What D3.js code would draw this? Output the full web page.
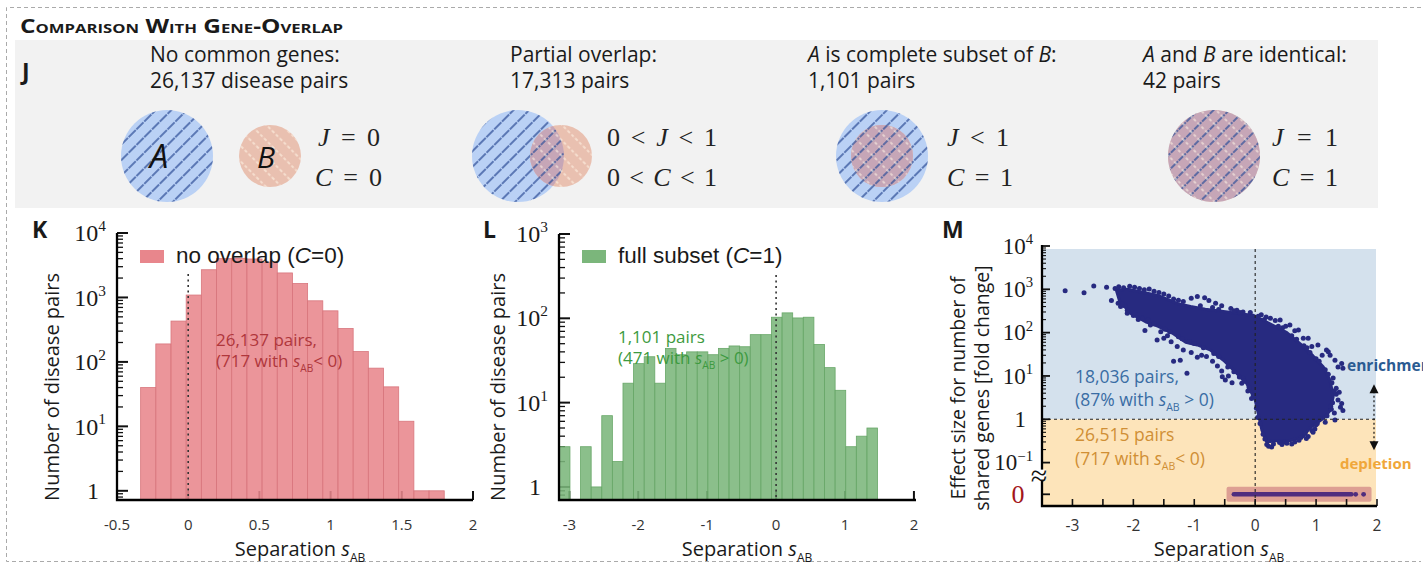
<!DOCTYPE html>
<html>
<head>
<meta charset="utf-8">
<script src="https://cdn.jsdelivr.net/npm/d3@7"></script>
<style>
  html, body { margin: 0; padding: 0; background: #fff; }
  svg { display: block; }
  text { white-space: pre; }
</style>
</head>
<body>
<svg id="fig" width="1423" height="565"></svg>
<script>
// ---------------- data ----------------
const groupTitles = ["No common genes:", "Partial overlap:", "*A* is complete subset of *B*:", "*A* and *B* are identical:"];
const groupCounts = ["26,137 disease pairs", "17,313 pairs", "1,101 pairs", "42 pairs"];
const jaccardLabels = ["*J* = 0", "0 < *J* < 1", "*J* < 1", "*J* = 1"];
const coverLabels = ["*C* = 0", "0 < *C* < 1", "*C* = 1", "*C* = 1"];

// K: disease pairs without shared genes, histogram of separation
const kBinFirst = -0.334;
const kBinWidth = 0.1066;
const kCounts = [40, 190, 430, 1090, 2690, 4000, 4050, 3950, 3535, 2400, 1645, 887, 620, 330, 145, 80, 41, 12, 1, 1];
const kTickValues = [-0.5, 0, 0.5, 1, 1.5, 2];

// L: pairs where one gene set is a full subset of the other
const lBinFirst = -3.145;
const lBinWidth = 0.1539;
const lCounts = [3, 0, 3, 1, 7, 2, 17, 29, 35, 17, 44, 37, 40, 40, 37, 44, 47, 46, 64, 64, 103, 116, 101, 103, 49, 26, 14, 3, 4, 5];
const lTickValues = [-3, -2, -1, 0, 1, 2];

// M: effect size of shared genes vs separation
const mTickValues = [-3, -2, -1, 0, 1, 2];
// outline of the densely filled part of the cloud [separation, fold change]
const denseCloud = [
  [-2.28, 955], [-2.10, 1000], [-1.91, 890], [-1.58, 710], [-1.25, 457], [-1.06, 400],
  [-0.82, 347], [-0.49, 302], [-0.16, 263], [-0.03, 251], [0.25, 158], [0.52, 100],
  [0.74, 55], [0.95, 29], [1.12, 16], [1.23, 7.9], [1.28, 3.3], [1.23, 1.6], [1.12, 1.05],
  [0.89, 0.62], [0.79, 0.40], [0.57, 0.32], [0.35, 0.32], [0.19, 0.30], [0.11, 0.56],
  [0.05, 1.38], [0.0, 2.8], [-0.14, 6.8], [-0.30, 11.5], [-0.52, 23], [-0.74, 40],
  [-0.95, 52], [-1.14, 60], [-1.36, 98], [-1.60, 141], [-1.80, 178], [-2.05, 282], [-2.23, 560]
];
// individual pairs outside or along the edge of the dense part [separation, fold change]
const sparsePairs = [
  [-3.12, 930], [-2.81, 830], [-2.65, 1200], [-2.44, 1120], [-2.36, 550], [-2.21, 400], [-2.10, 280],
  [-2.30, 1050], [-2.24, 1150], [-2.16, 1080], [-2.06, 1180], [-1.98, 1120], [-1.90, 1050],
  [-1.82, 980], [-1.74, 1020], [-1.66, 900], [-1.58, 840], [-1.50, 780], [-1.42, 700],
  [-1.34, 600], [-1.26, 560], [-1.18, 520], [-1.05, 620], [-0.95, 680], [-0.83, 640],
  [-0.76, 550], [-0.65, 480], [-0.55, 420], [-0.40, 360], [-0.30, 330], [-0.20, 300], [-0.08, 290],
  [-0.90, 420], [-0.70, 380], [-0.60, 340], [-0.35, 320], [-0.25, 290], [0.05, 240], [0.15, 200],
  [0.38, 140], [0.45, 130],
  [-2.25, 480], [-2.14, 420], [-2.00, 250], [-1.92, 200], [-1.81, 112], [-1.72, 150], [-1.61, 68],
  [-1.55, 105], [-1.50, 74], [-1.44, 85], [-1.38, 62], [-1.34, 22], [-1.28, 48], [-1.23, 23],
  [-1.18, 40], [-1.12, 11.5], [-1.05, 35], [-0.95, 27], [-0.88, 30], [-0.80, 28], [-0.70, 22],
  [-0.62, 17], [-0.55, 13], [-0.49, 8.1], [-0.54, 9.6], [-0.44, 10], [-0.38, 7], [-0.22, 6.8],
  [-0.20, 8.9], [-0.12, 4.5], [-0.06, 3.0],
  [-2.18, 460], [-2.10, 330], [-1.98, 280], [-1.85, 215], [-1.76, 195], [-1.66, 160], [-1.48, 120],
  [-1.40, 105], [-1.26, 80], [-1.20, 72], [-1.08, 62], [-1.00, 56], [-0.85, 45],
  [0.08, 0.8], [0.04, 1.1], [0.02, 1.8], [-0.03, 3.6], [-0.10, 5.5], [-0.18, 7.5], [-0.26, 9.5],
  [-0.35, 12.5], [-0.45, 16], [-0.60, 28], [-0.68, 33],
  [0.10, 260], [0.18, 230], [0.25, 215], [0.33, 190], [0.41, 195], [0.50, 140], [0.57, 150],
  [0.65, 110], [0.71, 115], [0.79, 74], [0.87, 74], [0.93, 48], [1.03, 52], [1.10, 30],
  [1.17, 40], [1.20, 36], [1.23, 30], [1.31, 23], [1.36, 16], [1.44, 15], [1.42, 19.5],
  [1.28, 9], [1.33, 5.2], [1.36, 2.8], [1.42, 2.3], [1.44, 1.6], [1.31, 0.96], [1.06, 1.05],
  [1.18, 1.2], [1.25, 1.7], [1.33, 3.8], [1.38, 4.2], [1.40, 1.9],
  [0.60, 85], [0.68, 70], [0.80, 50], [0.85, 45], [0.90, 35], [1.00, 25], [1.05, 22], [1.15, 14],
  [1.20, 11], [1.26, 7], [1.30, 4.5], [1.27, 2.4], [1.24, 2.0], [1.30, 1.4], [1.15, 0.85],
  [1.02, 0.8], [0.98, 0.6], [0.93, 0.55], [0.82, 0.48], [0.75, 0.38], [0.60, 0.27], [0.48, 0.30],
  [0.40, 0.29], [0.27, 0.23], [0.19, 0.26],
  [0.87, 0.40], [0.84, 0.36], [0.65, 0.30], [0.44, 0.26], [0.22, 0.24], [0.30, 0.27],
  [0.52, 0.28], [0.72, 0.33], [0.95, 0.5], [1.00, 0.75], [0.16, 0.35], [0.13, 0.45]
];
// pairs with zero shared genes: separation range and isolated values
const zeroFoldRange = [-0.35, 1.58];
const zeroFoldSingles = [1.65, 1.78];
const zeroFoldBox = [-0.47, 1.91];

// ---------------- drawing ----------------
const SANS = "'Open Sans', 'Noto Sans', sans-serif";
const ARIAL = "'Liberation Sans', Arial, sans-serif";
const SERIF = "'Liberation Serif', 'DejaVu Serif', serif";
const INK = "#1a1a1a";

const svg = d3.select("#fig");
const defs = svg.append("defs");

function richText(sel, str) {
  str.split("*").forEach((part, i) => {
    if (part === "") return;
    const t = sel.append("tspan").text(part);
    if (i % 2 === 1) t.attr("font-style", "italic");
  });
  return sel;
}
function sepText(sel, pre, post, size) {
  if (pre) sel.append("tspan").text(pre);
  sel.append("tspan").attr("font-style", "italic").text("s");
  sel.append("tspan").attr("font-size", size * 0.6).attr("dy", size * 0.28).text("AB");
  if (post) sel.append("tspan").attr("dy", -size * 0.28).text(post);
  return sel;
}
function powLabel(g, x, y, exp, size) {
  const t = g.append("text").attr("x", exp === 0 ? x - 7 : x).attr("y", y + size * 0.34)
    .attr("text-anchor", "end").attr("font-family", SERIF).attr("font-size", size).attr("fill", INK);
  if (exp === 0) { t.text("1"); return t; }
  t.append("tspan").text("10");
  t.append("tspan").attr("dy", -size * 0.42).attr("font-size", size * 0.64).text(exp < 0 ? "\u2212" + (-exp) : String(exp));
  return t;
}
function fmtTick(d) { return d < 0 ? "-" + Math.abs(d) : String(d); }

// frame
svg.append("path").attr("d", "M1421,7.5 H6.5 V561.5 H1421")
  .attr("fill", "none").attr("stroke", "#aaa").attr("stroke-width", 1).attr("stroke-dasharray", "4,3");

svg.append("text").attr("x", 20).attr("y", 33)
  .attr("font-family", SANS).attr("font-weight", 700).attr("font-size", 19)
  .style("font-variant", "small-caps").attr("fill", INK)
  .attr("textLength", 323).attr("lengthAdjust", "spacingAndGlyphs")
  .text("Comparison With Gene-Overlap");

// ---- J: overlap categories ----
svg.append("rect").attr("x", 15).attr("y", 40).attr("width", 1363).attr("height", 168).attr("fill", "#f2f2f2");
svg.append("text").attr("x", 22).attr("y", 80).attr("font-family", SANS).attr("font-weight", 700)
  .attr("font-size", 23).attr("fill", INK).text("J");

const headX = [150, 510, 808, 1143];
groupTitles.forEach((t, i) => {
  richText(svg.append("text").attr("x", headX[i]).attr("y", 62).attr("font-family", SANS)
    .attr("font-size", 21).attr("fill", INK), t);
  svg.append("text").attr("x", headX[i]).attr("y", 88).attr("font-family", SANS)
    .attr("font-size", 21).attr("fill", INK).text(groupCounts[i]);
});

// hatch patterns
function hatch(id, angle, color, width, dash, step) {
  const p = defs.append("pattern").attr("id", id).attr("patternUnits", "userSpaceOnUse")
    .attr("width", step).attr("height", step).attr("patternTransform", `rotate(${angle})`);
  p.append("line").attr("x1", 1).attr("y1", -1).attr("x2", 1).attr("y2", step + 1)
    .attr("stroke", color).attr("stroke-width", width).attr("stroke-dasharray", dash);
}
hatch("hatchA", 45, "#33529a", 1.4, "7,1", 11);
hatch("hatchB", -45, "#fff4e6", 1.1, "3,2.2", 11);

const COL_A = "#bad1f5", COL_B = "#e9c0b0", COL_AB = "#c6a6b7";
const venns = [
  { ax: 167, bx: 270, rb: 31 },
  { ax: 518, bx: 561, rb: 31 },
  { ax: 882, bx: 882, rb: 31 },
  { ax: 1214, bx: 1214, rb: 46 }
];
const vennY = 156, rA = 46;
venns.forEach((v, i) => {
  const g = svg.append("g");
  const clipA = defs.append("clipPath").attr("id", "clipA" + i);
  clipA.append("circle").attr("cx", v.ax).attr("cy", vennY).attr("r", rA);
  const clipB = defs.append("clipPath").attr("id", "clipB" + i);
  clipB.append("circle").attr("cx", v.bx).attr("cy", vennY).attr("r", v.rb);
  g.append("circle").attr("cx", v.ax).attr("cy", vennY).attr("r", rA).attr("fill", COL_A);
  g.append("circle").attr("cx", v.bx).attr("cy", vennY).attr("r", v.rb).attr("fill", COL_B);
  g.append("circle").attr("cx", v.bx).attr("cy", vennY).attr("r", v.rb).attr("fill", COL_AB)
    .attr("clip-path", `url(#clipA${i})`);
  g.append("rect").attr("x", v.ax - rA).attr("y", vennY - rA).attr("width", 2 * rA).attr("height", 2 * rA)
    .attr("fill", "url(#hatchA)").attr("clip-path", `url(#clipA${i})`);
  g.append("rect").attr("x", v.bx - v.rb).attr("y", vennY - v.rb).attr("width", 2 * v.rb).attr("height", 2 * v.rb)
    .attr("fill", "url(#hatchB)").attr("clip-path", `url(#clipB${i})`);
});
svg.append("text").attr("x", 159).attr("y", 168).attr("text-anchor", "middle").attr("font-family", SANS)
  .attr("font-style", "italic").attr("font-size", 33).attr("fill", "#111").text("A");
svg.append("text").attr("x", 266).attr("y", 168).attr("text-anchor", "middle").attr("font-family", SANS)
  .attr("font-style", "italic").attr("font-size", 30).attr("fill", "#111").text("B");

const mathX = [318, 607, 947, 1272];
const jWidth = [62, 110, 62, 66], cWidth = [67, 110, 66, 66];
jaccardLabels.forEach((t, i) => {
  richText(svg.append("text").attr("x", mathX[i]).attr("y", 146).attr("font-family", SERIF)
    .attr("font-size", 26).attr("fill", "#222").attr("textLength", jWidth[i]).attr("lengthAdjust", "spacing"), t);
  richText(svg.append("text").attr("x", mathX[i] - (i === 0 ? 3 : 0)).attr("y", 186).attr("font-family", SERIF)
    .attr("font-size", 26).attr("fill", "#222").attr("textLength", cWidth[i]).attr("lengthAdjust", "spacing"), coverLabels[i]);
});

// ---- histograms K and L ----
function drawHist(cfg) {
  const x = d3.scaleLinear().domain(cfg.xDomain).range([cfg.left, cfg.right]);
  const y = d3.scaleLog().domain(cfg.yDomain).range([cfg.bottom, cfg.top]);
  const g = svg.append("g");
  const [ymin, ymax] = cfg.yDomain;
  const minor = [];
  for (let e = Math.floor(Math.log10(ymin)); e < Math.log10(ymax); e++)
    for (let m = 2; m <= 9; m++) { const v = m * Math.pow(10, e); if (v >= ymin && v <= ymax) minor.push(v); }
  g.selectAll(".yminor").data(minor).join("line")
    .attr("x1", cfg.left).attr("x2", cfg.left + 6).attr("y1", d => y(d)).attr("y2", d => y(d))
    .attr("stroke", "#111").attr("stroke-width", 1.3);
  g.selectAll(".ymajor").data(cfg.decades).join("line")
    .attr("x1", cfg.left).attr("x2", cfg.left + 11).attr("y1", d => y(Math.pow(10, d))).attr("y2", d => y(Math.pow(10, d)))
    .attr("stroke", "#111").attr("stroke-width", 2);
  g.selectAll(".xtick").data(cfg.xTicks).join("line")
    .attr("x1", d => x(d)).attr("x2", d => x(d)).attr("y1", cfg.bottom).attr("y2", cfg.bottom - 9)
    .attr("stroke", "#111").attr("stroke-width", 2);

  const bins = cfg.counts.map((c, i) => ({ c, x0: cfg.binFirst + i * cfg.binWidth, x1: cfg.binFirst + (i + 1) * cfg.binWidth }))
    .filter(d => d.c > 0);
  g.selectAll(".bar").data(bins).join("rect")
    .attr("x", d => x(d.x0)).attr("width", d => x(d.x1) - x(d.x0))
    .attr("y", d => y(d.c)).attr("height", d => cfg.bottom - y(d.c))
    .attr("fill", cfg.color).attr("fill-opacity", 0.88)
    .attr("stroke", cfg.edge).attr("stroke-width", 0.8);

  g.append("line").attr("x1", x(0)).attr("x2", x(0)).attr("y1", cfg.top + 41).attr("y2", cfg.bottom)
    .attr("stroke", "#333").attr("stroke-width", 1.6).attr("stroke-dasharray", "2,3.5");

  g.append("path").attr("d", `M${cfg.left},${cfg.top} V${cfg.bottom} H${cfg.right}`)
    .attr("fill", "none").attr("stroke", "#000").attr("stroke-width", 2.3);

  cfg.decades.forEach(d => powLabel(g, cfg.left - 11, y(Math.pow(10, d)), d, 24));
  g.selectAll(".xlab").data(cfg.tickValues).join("text")
    .attr("x", d => x(d)).attr("y", 530).attr("text-anchor", "middle")
    .attr("font-family", SANS).attr("font-size", 15).attr("fill", "#333").text(fmtTick);

  sepText(g.append("text").attr("x", cfg.titleX).attr("y", 556).attr("text-anchor", "middle")
    .attr("font-family", SANS).attr("font-size", 20).attr("fill", INK), "Separation ", null, 20);
  g.append("text").attr("transform", `translate(${cfg.yTitleX},387) rotate(-90)`)
    .attr("text-anchor", "middle").attr("dominant-baseline", "central")
    .attr("font-family", SANS).attr("font-size", 20).attr("fill", INK).text("Number of disease pairs");
  g.append("text").attr("x", cfg.letterX).attr("y", 238).attr("font-family", SANS).attr("font-weight", 700)
    .attr("font-size", 23).attr("fill", INK).text(cfg.letter);

  g.append("rect").attr("x", cfg.left + 23).attr("y", 250).attr("width", 24).attr("height", 13)
    .attr("fill", cfg.color);
  const lg = g.append("text").attr("x", cfg.left + 59).attr("y", 263).attr("font-family", ARIAL)
    .attr("font-size", 22.5).attr("fill", INK);
  richText(lg, cfg.legend);

  g.append("text").attr("x", cfg.noteX).attr("y", cfg.noteY).attr("font-family", SANS)
    .attr("font-size", 17).attr("fill", cfg.noteColor).text(cfg.note1);
  sepText(g.append("text").attr("x", cfg.noteX).attr("y", cfg.noteY + 21).attr("font-family", SANS)
    .attr("font-size", 17).attr("fill", cfg.noteColor), cfg.note2[0], cfg.note2[1], 17);
}

drawHist({
  letter: "K", letterX: 32, left: 117, right: 473, top: 233, bottom: 500,
  xDomain: [-0.5, 2], yDomain: [0.72, 1e4], decades: [0, 1, 2, 3, 4],
  xTicks: [0, 0.5, 1, 1.5, 2], tickValues: kTickValues,
  binFirst: kBinFirst, binWidth: kBinWidth, counts: kCounts,
  color: "#e8868c", edge: "#d8767d",
  titleX: 300, yTitleX: 51, legend: "no overlap (*C*=0)",
  noteX: 216, noteY: 346, noteColor: "#b0373c",
  note1: "26,137 pairs,", note2: ["(717 with ", "< 0)"]
});
drawHist({
  letter: "L", letterX: 483, left: 559, right: 916, top: 234, bottom: 500,
  xDomain: [-3.15, 2.03], yDomain: [0.7, 1e3], decades: [0, 1, 2, 3],
  xTicks: [-3, -2, -1, 0, 1, 2], tickValues: lTickValues,
  binFirst: lBinFirst, binWidth: lBinWidth, counts: lCounts,
  color: "#7bb67b", edge: "#68a768",
  titleX: 747, yTitleX: 497, legend: "full subset (*C*=1)",
  noteX: 618, noteY: 343, noteColor: "#3d9a40",
  note1: "1,101 pairs", note2: ["(471 with ", " > 0)"]
});

// ---- M: effect size scatter ----
(function () {
  const left = 1042, right = 1377, bottom = 506;
  const x = d3.scaleLinear().domain([-3.5, 2]).range([left, right]);
  const y = d3.scaleLog().domain([0.1, 1e4]).range([462.6, 246]);
  const zeroY = y(0.1) + 31.7;
  const g = svg.append("g");

  g.append("rect").attr("x", left).attr("y", y(1e4) + 3).attr("width", right - left - 1)
    .attr("height", y(1) - y(1e4) - 3).attr("fill", "#d4e1ed");
  g.append("rect").attr("x", left).attr("y", y(1)).attr("width", right - left - 1)
    .attr("height", bottom - y(1)).attr("fill", "#fde4ba");

  // zero-overlap pairs on the broken part of the axis
  g.append("rect").attr("x", x(zeroFoldBox[0])).attr("width", x(zeroFoldBox[1]) - x(zeroFoldBox[0]))
    .attr("y", zeroY - 7.5).attr("height", 15).attr("rx", 2).attr("fill", "#dd9f93");
  g.append("line").attr("x1", x(zeroFoldRange[0])).attr("x2", x(zeroFoldRange[1]))
    .attr("y1", zeroY).attr("y2", zeroY).attr("stroke", "#4f2d7e").attr("stroke-width", 4.6)
    .attr("stroke-linecap", "round");
  g.selectAll(".zdot").data(zeroFoldSingles).join("circle")
    .attr("cx", d => x(d)).attr("cy", zeroY).attr("r", 2.4).attr("fill", "#4f2d7e");

  const NAVY = "#272a80";
  g.append("path").datum(denseCloud)
    .attr("d", d3.line().x(d => x(d[0])).y(d => y(d[1])).curve(d3.curveLinearClosed))
    .attr("fill", NAVY).attr("stroke", NAVY).attr("stroke-width", 3).attr("stroke-linejoin", "round");
  g.selectAll(".pt").data(sparsePairs).join("circle")
    .attr("cx", d => x(d[0])).attr("cy", d => y(d[1])).attr("r", 2.5).attr("fill", NAVY);

  g.append("line").attr("x1", x(0)).attr("x2", x(0)).attr("y1", y(1e4) + 3).attr("y2", bottom)
    .attr("stroke", "#222").attr("stroke-width", 1.1).attr("stroke-dasharray", "3,3");
  g.append("line").attr("x1", left).attr("x2", right).attr("y1", y(1)).attr("y2", y(1))
    .attr("stroke", "#222").attr("stroke-width", 1.1).attr("stroke-dasharray", "3,3");

  // ticks
  const minor = [];
  for (let e = -1; e < 4; e++) for (let m = 2; m <= 9; m++) minor.push(m * Math.pow(10, e));
  g.selectAll(".ymin").data(minor).join("line")
    .attr("x1", left).attr("x2", left + 4).attr("y1", d => y(d)).attr("y2", d => y(d))
    .attr("stroke", "#111").attr("stroke-width", 1.1);
  const decades = [-1, 0, 1, 2, 3, 4];
  g.selectAll(".ymaj").data(decades).join("line")
    .attr("x1", left).attr("x2", left + 8).attr("y1", d => y(Math.pow(10, d))).attr("y2", d => y(Math.pow(10, d)))
    .attr("stroke", "#111").attr("stroke-width", 1.8);
  g.append("line").attr("x1", left).attr("x2", left + 8).attr("y1", zeroY).attr("y2", zeroY)
    .attr("stroke", "#111").attr("stroke-width", 1.8);
  const xt = d3.range(-3, 2.01, 0.5);
  g.selectAll(".xt").data(xt).join("line")
    .attr("x1", d => x(d)).attr("x2", d => x(d)).attr("y1", bottom).attr("y2", bottom - 7)
    .attr("stroke", "#111").attr("stroke-width", 1.6);

  g.append("path").attr("d", `M${left},${y(1e4) - 1} V${bottom} H${right}`)
    .attr("fill", "none").attr("stroke", "#000").attr("stroke-width", 2.3);
  // axis break mark
  g.append("rect").attr("x", left - 4).attr("y", y(0.1) + 7).attr("width", 8).attr("height", 10).attr("fill", "#fff");
  g.append("text").attr("x", left - 3).attr("y", y(0.1) + 23).attr("text-anchor", "middle")
    .attr("font-family", SERIF).attr("font-size", 30).attr("fill", "#111").text("\u2248");

  decades.forEach(d => powLabel(g, left - 9, y(Math.pow(10, d)), d, 23));
  g.append("text").attr("x", 1018).attr("y", zeroY + 9).attr("text-anchor", "middle")
    .attr("font-family", SERIF).attr("font-size", 26).attr("fill", "#a3161b").text("0");

  g.selectAll(".xl").data(mTickValues).join("text")
    .attr("x", d => x(d)).attr("y", 531).attr("text-anchor", "middle")
    .attr("font-family", SANS).attr("font-size", 15.5).attr("fill", "#333").text(fmtTick);
  sepText(g.append("text").attr("x", 1219).attr("y", 556).attr("text-anchor", "middle")
    .attr("font-family", SANS).attr("font-size", 20).attr("fill", INK), "Separation ", null, 20);
  g.append("text").attr("transform", "translate(957,388) rotate(-90)").attr("text-anchor", "middle")
    .attr("dominant-baseline", "central").attr("font-family", SANS).attr("font-size", 19.5).attr("fill", INK)
    .text("Effect size for number of");
  g.append("text").attr("transform", "translate(981,388) rotate(-90)").attr("text-anchor", "middle")
    .attr("dominant-baseline", "central").attr("font-family", SANS).attr("font-size", 19.5).attr("fill", INK)
    .text("shared genes [fold change]");
  g.append("text").attr("x", 942).attr("y", 238).attr("font-family", SANS).attr("font-weight", 700)
    .attr("font-size", 23).attr("fill", INK).text("M");

  g.append("text").attr("x", 1075).attr("y", 383).attr("font-family", SANS).attr("font-size", 17.5)
    .attr("fill", "#3a6da4").text("18,036 pairs,");
  sepText(g.append("text").attr("x", 1075).attr("y", 406).attr("font-family", SANS).attr("font-size", 17.5)
    .attr("fill", "#3a6da4"), "(87% with ", " > 0)", 17.5);
  g.append("text").attr("x", 1075).attr("y", 441).attr("font-family", SANS).attr("font-size", 17.5)
    .attr("fill", "#d08f35").text("26,515 pairs");
  sepText(g.append("text").attr("x", 1075).attr("y", 465).attr("font-family", SANS).attr("font-size", 17.5)
    .attr("fill", "#d08f35"), "(717 with ", "< 0)", 17.5);

  // enrichment / depletion arrows
  const ax = 1374;
  g.append("line").attr("x1", ax).attr("x2", ax).attr("y1", y(1) - 28).attr("y2", y(1) + 25)
    .attr("stroke", "#111").attr("stroke-width", 1.2).attr("stroke-dasharray", "2,2.5");
  g.append("path").attr("d", `M${ax},${y(1) - 35} l-4.5,9 h9 Z`).attr("fill", "#111");
  g.append("path").attr("d", `M${ax},${y(1) + 31} l-4.5,-9 h9 Z`).attr("fill", "#111");
  g.append("text").attr("x", 1347).attr("y", 371).attr("font-family", SANS).attr("font-weight", 700)
    .attr("font-size", 15.5).attr("fill", "#2b5b92").text("enrichment");
  g.append("text").attr("x", 1340).attr("y", 469).attr("font-family", SANS).attr("font-weight", 700)
    .attr("font-size", 15).attr("fill", "#f0a73a").text("depletion");
})();
</script>
</body>
</html>
